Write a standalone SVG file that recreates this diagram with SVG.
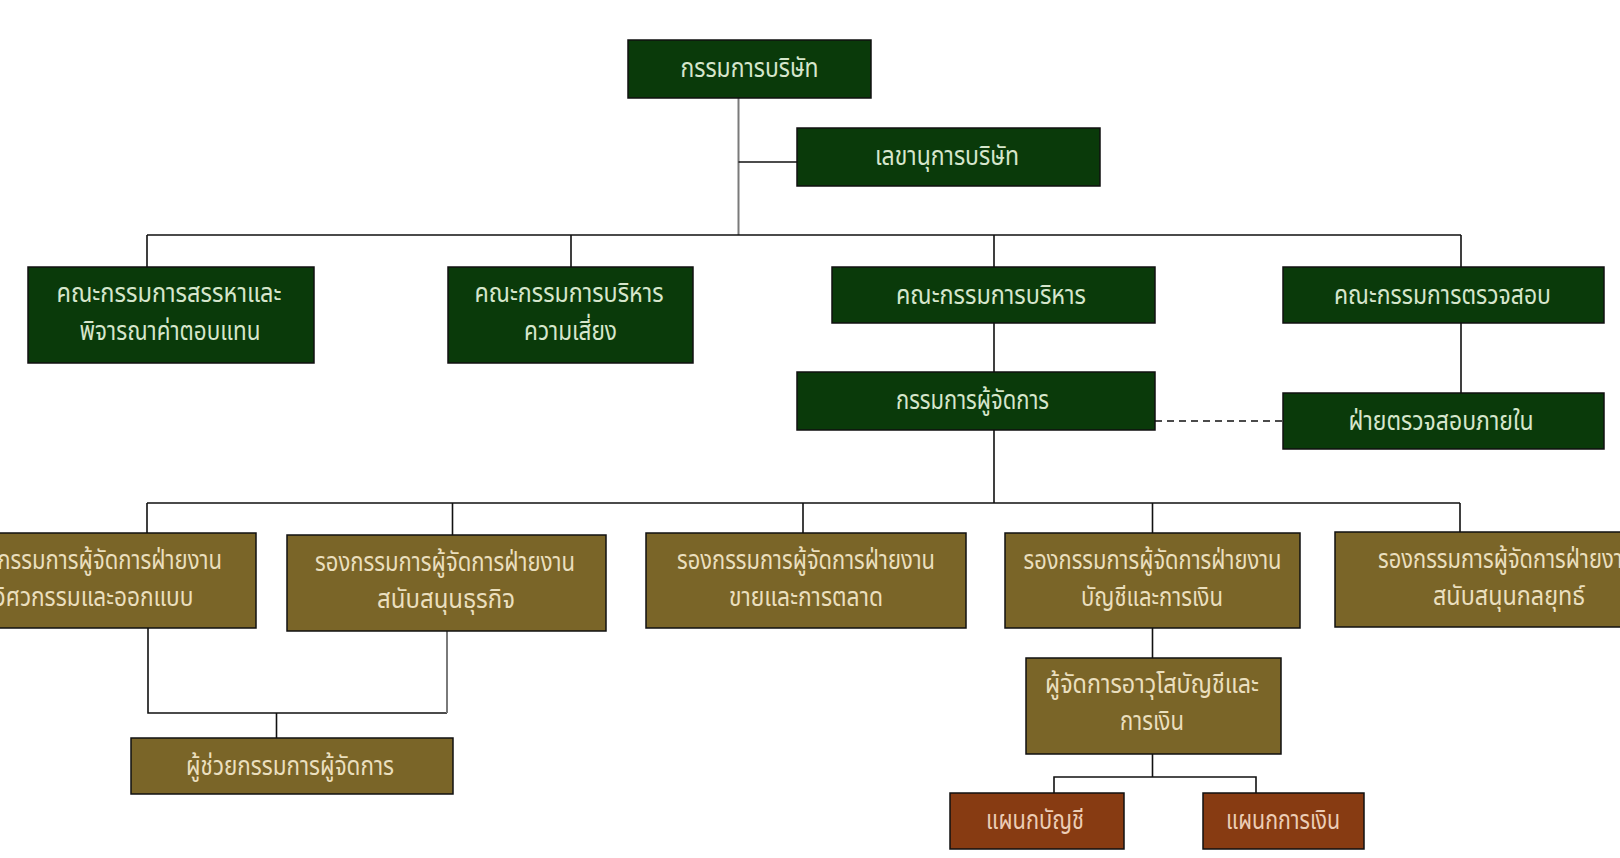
<svg xmlns="http://www.w3.org/2000/svg" width="1620" height="858" viewBox="0 0 1620 858">
<style>
.g{fill:#0a3a0a;stroke:#111;stroke-width:1.5}
.o{fill:#7a6528;stroke:#111;stroke-width:1.5}
.r{fill:#873b12;stroke:#111;stroke-width:1.5}
text{font-family:"Noto Sans Thai","Noto Sans","DejaVu Sans",sans-serif;font-size:26px;text-anchor:middle}
.tg{fill:#d6e6cc}
.to{fill:#eadfbe}
.tr{fill:#eccdb6}
.ln{fill:none;stroke:#111;stroke-width:1.6}
.lg{fill:none;stroke:#7a7a7a;stroke-width:2}
.ld{fill:none;stroke:#111;stroke-width:1.6;stroke-dasharray:7 5}
</style>
<rect width="1620" height="858" fill="#ffffff"/>
<g id="connectors">
<path class="lg" d="M738.5 98V235"/>
<path class="ln" d="M738.5 162H797"/>
<path class="ln" d="M147 235H1461M147 235V267M571 235V267M994 235V267M1461 235V267"/>
<path class="ln" d="M994 323V372M1461 323V393"/>
<path class="ld" d="M1155 421H1283"/>
<path class="ln" d="M994 430V503M147 503H1460M147 503V533M452.5 503V535M803 503V533M1152.5 503V533M1460 503V532"/>
<path class="ln" d="M148 628V713H447"/>
<path class="lg" d="M447 713V631"/>
<path class="ln" d="M276.5 713V738"/>
<path class="ln" d="M1152.5 628V658M1152.5 754V777M1054 793V777H1256V793"/>
</g>
<g id="n-board"><rect class="g" x="628" y="40" width="243" height="58"/><text class="tg" x="749.5" y="77" textLength="138" lengthAdjust="spacingAndGlyphs">กรรมการบริษัท</text></g>
<g id="n-secretary"><rect class="g" x="797" y="128" width="303" height="58"/><text class="tg" x="947" y="165" textLength="144" lengthAdjust="spacingAndGlyphs">เลขานุการบริษัท</text></g>
<g id="n-nomination"><rect class="g" x="28" y="267" width="286" height="96"/><text class="tg" x="169" y="302" textLength="225" lengthAdjust="spacingAndGlyphs">คณะกรรมการสรรหาและ</text><text class="tg" x="170" y="340" textLength="181" lengthAdjust="spacingAndGlyphs">พิจารณาค่าตอบแทน</text></g>
<g id="n-risk"><rect class="g" x="448" y="267" width="245" height="96"/><text class="tg" x="569" y="302" textLength="189" lengthAdjust="spacingAndGlyphs">คณะกรรมการบริหาร</text><text class="tg" x="570.5" y="340" textLength="93" lengthAdjust="spacingAndGlyphs">ความเสี่ยง</text></g>
<g id="n-executive"><rect class="g" x="832" y="267" width="323" height="56"/><text class="tg" x="991" y="304" textLength="190" lengthAdjust="spacingAndGlyphs">คณะกรรมการบริหาร</text></g>
<g id="n-audit-committee"><rect class="g" x="1283" y="267" width="321" height="56"/><text class="tg" x="1442.5" y="304" textLength="217" lengthAdjust="spacingAndGlyphs">คณะกรรมการตรวจสอบ</text></g>
<g id="n-md"><rect class="g" x="797" y="372" width="358" height="58"/><text class="tg" x="972.5" y="409" textLength="153" lengthAdjust="spacingAndGlyphs">กรรมการผู้จัดการ</text></g>
<g id="n-internal-audit"><rect class="g" x="1283" y="393" width="321" height="56"/><text class="tg" x="1441" y="430" textLength="185" lengthAdjust="spacingAndGlyphs">ฝ่ายตรวจสอบภายใน</text></g>
<g id="n-engineering"><rect class="o" x="-66" y="533" width="322" height="95"/><text class="to" x="92" y="569" textLength="260" lengthAdjust="spacingAndGlyphs">รองกรรมการผู้จัดการฝ่ายงาน</text><text class="to" x="94" y="606" textLength="199" lengthAdjust="spacingAndGlyphs">วิศวกรรมและออกแบบ</text></g>
<g id="n-business-support"><rect class="o" x="287" y="535" width="319" height="96"/><text class="to" x="445" y="571" textLength="260" lengthAdjust="spacingAndGlyphs">รองกรรมการผู้จัดการฝ่ายงาน</text><text class="to" x="446" y="608" textLength="138" lengthAdjust="spacingAndGlyphs">สนับสนุนธุรกิจ</text></g>
<g id="n-sales"><rect class="o" x="646" y="533" width="320" height="95"/><text class="to" x="806" y="569" textLength="258" lengthAdjust="spacingAndGlyphs">รองกรรมการผู้จัดการฝ่ายงาน</text><text class="to" x="806" y="606" textLength="154" lengthAdjust="spacingAndGlyphs">ขายและการตลาด</text></g>
<g id="n-finance"><rect class="o" x="1005" y="533" width="295" height="95"/><text class="to" x="1152.5" y="569" textLength="258" lengthAdjust="spacingAndGlyphs">รองกรรมการผู้จัดการฝ่ายงาน</text><text class="to" x="1152" y="606" textLength="142" lengthAdjust="spacingAndGlyphs">บัญชีและการเงิน</text></g>
<g id="n-strategy"><rect class="o" x="1335" y="532" width="348" height="95"/><text class="to" x="1507" y="568" textLength="258" lengthAdjust="spacingAndGlyphs">รองกรรมการผู้จัดการฝ่ายงาน</text><text class="to" x="1509" y="605" textLength="152" lengthAdjust="spacingAndGlyphs">สนับสนุนกลยุทธ์</text></g>
<g id="n-assistant-md"><rect class="o" x="131" y="738" width="322" height="56"/><text class="to" x="290" y="775" textLength="208" lengthAdjust="spacingAndGlyphs">ผู้ช่วยกรรมการผู้จัดการ</text></g>
<g id="n-senior-finance"><rect class="o" x="1026" y="658" width="255" height="96"/><text class="to" x="1152" y="693" textLength="214" lengthAdjust="spacingAndGlyphs">ผู้จัดการอาวุโสบัญชีและ</text><text class="to" x="1152" y="730" textLength="64" lengthAdjust="spacingAndGlyphs">การเงิน</text></g>
<g id="n-accounting"><rect class="r" x="950" y="793" width="174" height="56"/><text class="tr" x="1035" y="829" textLength="98" lengthAdjust="spacingAndGlyphs">แผนกบัญชี</text></g>
<g id="n-treasury"><rect class="r" x="1203" y="793" width="161" height="56"/><text class="tr" x="1283" y="829" textLength="114" lengthAdjust="spacingAndGlyphs">แผนกการเงิน</text></g>
</svg>
